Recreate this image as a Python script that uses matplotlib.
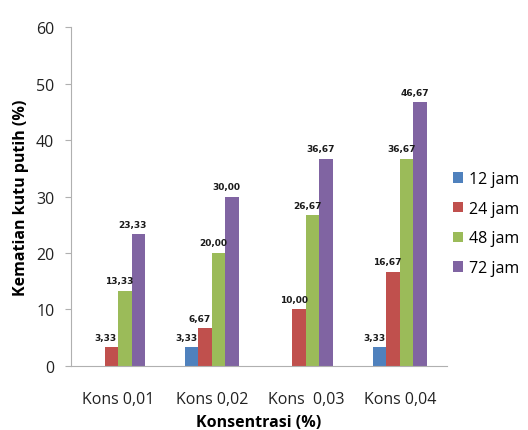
import matplotlib
matplotlib.use("Agg")
import matplotlib.pyplot as plt
import numpy as np

categories = ["Kons 0,01", "Kons 0,02", "Kons  0,03", "Kons 0,04"]
series_names = ["12 jam", "24 jam", "48 jam", "72 jam"]
jam12 = [0.00, 3.33, 0.00, 3.33]
jam24 = [3.33, 6.67, 10.00, 16.67]
jam48 = [13.33, 20.00, 26.67, 36.67]
jam72 = [23.33, 30.00, 36.67, 46.67]
colors = ["#4F81BD", "#C0504D", "#9BBB59", "#8064A2"]

plt.rcParams["font.family"] = ["Open Sans", "DejaVu Sans"]

fig = plt.figure(figsize=(5.28, 4.31), dpi=100)
ax = fig.add_axes([0.1345, 0.1485, 0.712, 0.7865])

x = np.arange(len(categories))
width = 0.1436
series = [jam12, jam24, jam48, jam72]
for i, (vals, name, col) in enumerate(zip(series, series_names, colors)):
    pos = x + (i - 1.5) * width
    ax.bar(pos, vals, width=width, color=col, label=name, zorder=2)
    for px, v in zip(pos, vals):
        if v > 0:
            ax.annotate(f"{v:.2f}".replace(".", ","), (px, v),
                        xytext=(-4, 4), textcoords="offset points",
                        ha="center", va="bottom", fontsize=6.5,
                        fontweight="bold", color="#1a1a1a",
                        family="DejaVu Sans")

ax.set_xlim(-0.5, 3.5)
ax.set_ylim(0, 60)
ax.set_yticks(range(0, 61, 10))
ax.set_xticks(x)
ax.set_xticklabels(categories, fontsize=11.5, color="#222222")
ax.tick_params(axis="y", labelsize=11.5, colors="#222222", length=4,
               color="#b0b0b0", pad=8)
ax.tick_params(axis="x", length=0, pad=18)
for s in ["top", "right"]:
    ax.spines[s].set_visible(False)
for s in ["left", "bottom"]:
    ax.spines[s].set_color("#b0b0b0")

ax.set_ylabel("Kematian kutu putih (%)", fontsize=11.5, fontweight="bold",
              labelpad=5)
ax.set_xlabel("Konsentrasi (%)", fontsize=11.5, fontweight="bold", labelpad=5)

ax.legend(loc="center left", bbox_to_anchor=(1.0, 0.42), frameon=False,
          fontsize=11.5, handlelength=0.62, handleheight=0.62,
          handletextpad=0.37, labelspacing=0.85, borderaxespad=0.0,
          borderpad=0.4)

fig.savefig("out.png", dpi=100)
